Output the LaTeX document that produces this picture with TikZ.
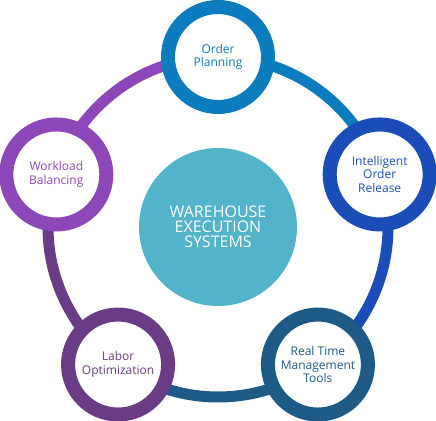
\documentclass[tikz,border=0pt]{standalone}
\usepackage{fontspec}
\setmainfont{Open Sans}
\definecolor{planblue}{HTML}{0B7CBE}
\definecolor{releaseblue}{HTML}{1B4DB8}
\definecolor{toolsblue}{HTML}{1D5A86}
\definecolor{laborpurple}{HTML}{6A3C86}
\definecolor{loadpurple}{HTML}{8E47B9}
\definecolor{hubteal}{HTML}{52B3CB}
\begin{document}
\begin{tikzpicture}[x=1pt,y=1pt,
  stepring/.style={circle,draw=#1,line width=14pt,fill=white,minimum size=100pt,
    inner sep=0pt,text=#1,align=center,font=\fontsize{12}{13.5}\selectfont},
  link/.style={draw=#1,line width=11pt}]
\useasboundingbox (0,0) rectangle (436,420);
\begin{scope}[shift={(218,193)}]
% ring between the steps
\coordinate (hub) at (0,0);
\coordinate (p1) at (90:170);
\coordinate (p2) at (18:170);
\coordinate (p3) at (-54:170);
\coordinate (p4) at (-126:170);
\coordinate (p5) at (162:170);
\draw[link=planblue] (p1) arc[start angle=90,end angle=18,radius=170pt];
\draw[link=releaseblue] (p2) arc[start angle=18,end angle=-54,radius=170pt];
\draw[link=toolsblue] (p3) arc[start angle=-54,end angle=-126,radius=170pt];
\draw[link=laborpurple] (p4) arc[start angle=-126,end angle=-198,radius=170pt];
\draw[link=loadpurple] (p5) arc[start angle=162,end angle=90,radius=170pt];
% centre
\node[circle,fill=hubteal,minimum size=158pt,inner sep=0pt,text=white,align=center,
  font=\fontsize{16}{15}\selectfont] (wes) at (hub) {WAREHOUSE\\EXECUTION\\SYSTEMS};
% steps
\node[stepring=planblue] (plan) at (p1) {Order\\Planning};
\node[stepring=releaseblue] (release) at (p2) {Intelligent\\Order\\Release};
\node[stepring=toolsblue] (tools) at (p3) {Real Time\\Management\\Tools};
\node[stepring=laborpurple] (labor) at (p4) {Labor\\Optimization};
\node[stepring=loadpurple] (load) at (p5) {Workload\\Balancing};
\end{scope}
\end{tikzpicture}
\end{document}
